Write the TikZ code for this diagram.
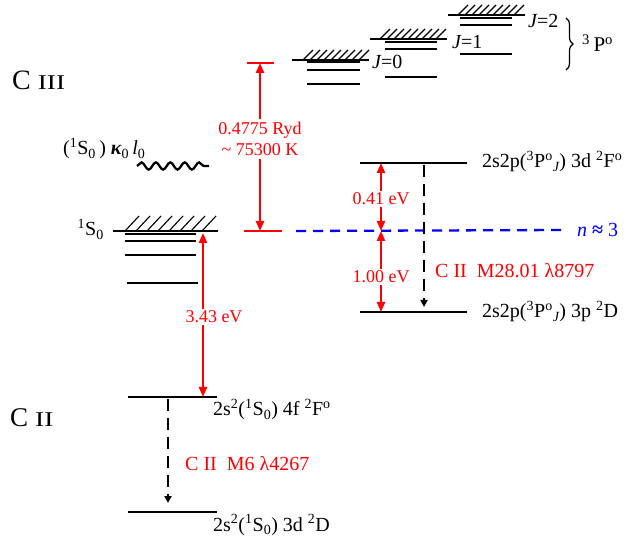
\documentclass[tikz,border=0pt]{standalone}
\usepackage{graphicx}
\usepackage{fontspec}
\setmainfont{Liberation Serif}
\usetikzlibrary{arrows.meta,decorations.pathmorphing,decorations.pathreplacing}
\newcommand{\supx}[1]{\textsuperscript{#1}}
\newcommand{\subx}[1]{\textsubscript{#1}}
\newcommand{\fsz}[1]{\fontsize{#1}{#1}\selectfont}
\begin{document}
\begin{tikzpicture}[x=1pt,y=-1pt,
  lvl/.style={line width=2.5pt},
  thinlvl/.style={line width=1.3pt},
  hatch/.style={line width=1.1pt},
  redlvl/.style={red,line width=2.8pt},
  redarr/.style={red,line width=2.4pt,-{Triangle[length=10pt,width=8pt]}},
  blkdash/.style={line width=2pt,dash pattern=on 12pt off 7pt,-{Triangle[length=7pt,width=7pt]}},
  bluedash/.style={blue,line width=2.3pt,dash pattern=on 10pt off 7pt},
  lbl/.style={inner sep=0pt,font=\fsz{20}},
  redlbl/.style={red,inner sep=0pt,font=\fsz{18}},
  redbig/.style={red,inner sep=0pt,font=\fsz{20}},
]
\useasboundingbox (0,0) rectangle (635,537);
\fill[white] (0,0) rectangle (635,537);

% ---------- ion titles ----------
\node[inner sep=0pt,anchor=base west] (ciii) at (12,90) {{\fsz{28}C}\hspace{7pt}{\fsz{21}\scalebox{1.3}[1]{III}}};
\node[inner sep=0pt,anchor=base west] (cii) at (10,427) {{\fsz{27}C}\hspace{7pt}{\fsz{21}\scalebox{1.3}[1]{II}}};

% ---------- 3Po J groups ----------
% J=0
\draw[thinlvl] (292,60) -- (369,60);
\foreach \b in {303,310,...,359} \draw[hatch] (\b,60) -- (\b+10,50);
\draw[lvl] (307,62) -- (360,62);
\draw[lvl] (307,70) -- (360,70);
\draw[lvl] (307,84) -- (360,84);
% J=1
\draw[thinlvl] (370,39) -- (447,39);
\foreach \b in {380,387,...,437} \draw[hatch] (\b,39) -- (\b+10,29);
\draw[lvl] (385,42) -- (437,42);
\draw[lvl] (385,49) -- (437,49);
\draw[lvl] (385,77) -- (437,77);
% J=2
\draw[thinlvl] (448,15) -- (525,15);
\foreach \b in {458,465,...,515} \draw[hatch] (\b,15) -- (\b+10,5);
\draw[lvl] (460,18) -- (512,18);
\draw[lvl] (460,25) -- (512,25);
\draw[lvl] (460,54) -- (512,54);

\node[lbl,anchor=base west] (j0) at (372,69) {\itshape J\upshape=0};
\node[lbl,anchor=base west] (j1) at (452,49) {\itshape J\upshape=1};
\node[lbl,anchor=base west] (j2) at (528,28) {\itshape J\upshape=2};
\draw[line width=1.2pt,decorate,decoration={brace,amplitude=7pt}] (566,18) -- (566,70);
\node[lbl,anchor=base west,font=\fsz{21}] (tpo) at (582,52) {\supx{3}\,P\supx{o}};

% ---------- 1S0 group ----------
\draw[thinlvl] (113,231) -- (218,231);
\foreach \b in {125,136,...,203} \draw[hatch] (\b,231) -- (\b+14,216);
\draw[lvl] (125,234) -- (196,234);
\draw[lvl] (125,241) -- (196,241);
\draw[lvl] (125,255) -- (196,255);
\draw[lvl] (127,283) -- (198,283);
\node[lbl,anchor=base east] (s0) at (104,236) {\supx{1}S\subx{0}};

% continuum electron
\node[lbl,anchor=base west] (kap) at (63,155) {(\supx{1}S\subx{0}\,) {\bfseries\itshape κ}\subx{0}\,{\itshape l}\subx{0}};
\draw[line width=2.3pt,decorate,decoration={snake,segment length=14.4pt,amplitude=3.6pt}] (137,166) -- (209,166);

% ---------- red ionisation energy ----------
\draw[redlvl] (247,63) -- (274,63);
\draw[redlvl] (244,231) -- (282,231);
\coordinate (rtop) at (260,63);
\coordinate (rbot) at (260,231);
\node[redlbl,align=center,inner sep=3pt] (ryd) at (260,139) {0.4775 Ryd\\[3pt]\textasciitilde\ 75300 K};
\draw[redarr] (ryd) -- (rtop);
\draw[redarr] (ryd) -- (rbot);

% blue n~3 line
\coordinate (bl0) at (296,231);
\node[blue,inner sep=0pt,anchor=west,font=\fsz{20}] (nthree) at (577,230) {{\itshape n} {\bfseries ≈} 3};
\draw[bluedash] (bl0) -- (nthree.west -| 566,0);

% ---------- 2s2p levels ----------
\draw[lvl] (360,163) -- (467,163);
\draw[lvl] (360,312) -- (467,312);
\node[lbl,anchor=base west] (f3d) at (482,168) {2s2p(\supx{3}P\supx{o}\subx{\itshape J}) 3d \supx{2}F\supx{o}};
\node[lbl,anchor=base west] (d3p) at (482,318) {2s2p(\supx{3}P\supx{o}\subx{\itshape J}) 3p \supx{2}D};

\coordinate (ea) at (381,163);
\coordinate (eb) at (381,231);
\coordinate (ec) at (381,312);
\node[redlbl,inner sep=2pt,fill=white] (e041) at (381,199) {0.41 eV};
\node[redlbl,inner sep=2pt,fill=white] (e100) at (381,277) {1.00 eV};
\draw[redarr] (e041) -- (ea);
\draw[redarr] (e041) -- (eb);
\draw[redarr] (e100) -- (eb);
\draw[redarr] (e100) -- (ec);

\coordinate (da) at (424,165);
\coordinate (db) at (424,307);
\draw[blkdash] (da) -- (db);
\node[redbig,anchor=base west] (m28) at (435,278) {C II\ \ M28.01 λ8797};

% ---------- C II 4f / 3d levels ----------
\draw[lvl] (128,397) -- (217,397);
\draw[lvl] (128,512) -- (217,512);
\node[lbl,anchor=base west] (f4f) at (213,416) {2s\supx{2}(\supx{1}S\subx{0}) 4f \supx{2}F\supx{o}};
\node[lbl,anchor=base west] (d3d) at (213,531) {2s\supx{2}(\supx{1}S\subx{0}) 3d \supx{2}D};

\coordinate (sa) at (203,233);
\coordinate (sb) at (203,397);
\node[redlbl,inner sep=2pt] (e343) at (214,317) {3.43 eV};
\draw[redarr] (e343.north -| sa) -- (sa);
\draw[redarr] (e343.south -| sb) -- (sb);

\coordinate (ma) at (168,399);
\coordinate (mb) at (168,503);
\draw[blkdash] (ma) -- (mb);
\node[redbig,anchor=base west] (m6) at (185,470) {C II\ \ M6 λ4267};
\end{tikzpicture}
\end{document}
